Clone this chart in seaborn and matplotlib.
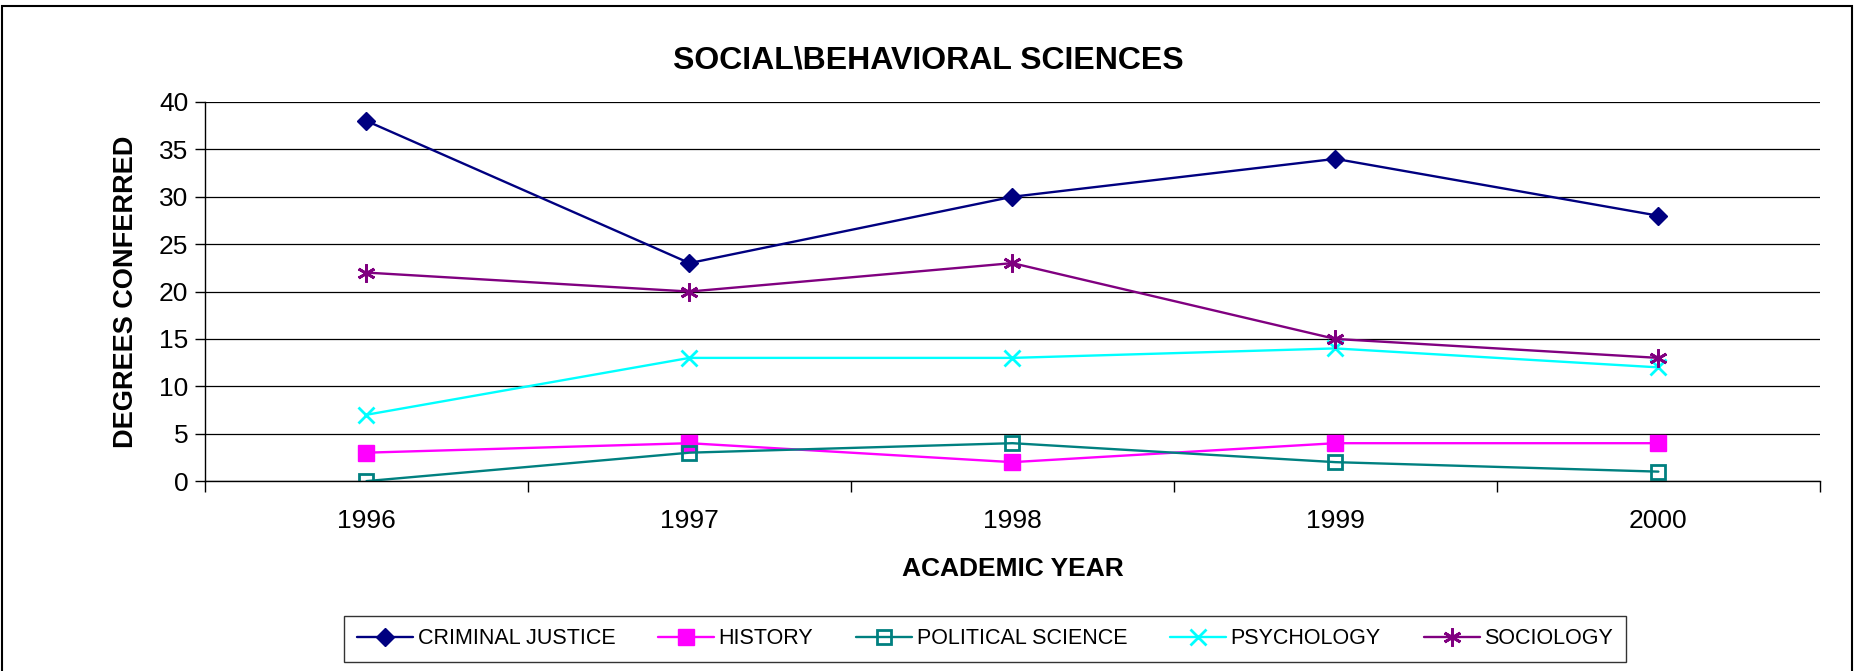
import matplotlib
matplotlib.use('Agg')
import matplotlib.pyplot as plt
from matplotlib.patches import Rectangle
from matplotlib.ticker import FixedLocator
import pandas as pd
import seaborn as sns

years = [1996, 1997, 1998, 1999, 2000]
criminal_justice = [38, 23, 30, 34, 28]
history = [3, 4, 2, 4, 4]
political_science = [0, 3, 4, 2, 1]
psychology = [7, 13, 13, 14, 12]
sociology = [22, 20, 23, 15, 13]

series_names = ['CRIMINAL JUSTICE', 'HISTORY', 'POLITICAL SCIENCE', 'PSYCHOLOGY', 'SOCIOLOGY']
series_values = [criminal_justice, history, political_science, psychology, sociology]

colors = ['#000080', '#FF00FF', '#008080', '#00FFFF', '#800080']
markers = ['D', 's', 's', 'x', (6, 2, 0)]
marker_sizes = [9, 11, 10, 12, 13]
fills = ['full', 'full', 'none', 'full', 'full']

df = pd.DataFrame(
    [(name, yr, v) for name, vals in zip(series_names, series_values) for yr, v in zip(years, vals)],
    columns=['program', 'year', 'degrees'],
)

sns.set_theme(style='white')
plt.rcParams['font.family'] = ['Liberation Sans', 'DejaVu Sans']
plt.rcParams['text.color'] = 'black'
plt.rcParams['axes.labelcolor'] = 'black'
plt.rcParams['xtick.color'] = 'black'
plt.rcParams['ytick.color'] = 'black'

fig = plt.figure(figsize=(18.57, 6.71), dpi=100)
ax = fig.add_axes([0.1104, 0.283, 0.8696, 0.565])

for name, color, mk, ms, fs in zip(series_names, colors, markers, marker_sizes, fills):
    sub = df[df['program'] == name]
    sns.lineplot(
        data=sub, x='year', y='degrees', ax=ax, color=color, linewidth=1.7,
        marker=mk, markersize=ms, fillstyle=fs, markeredgecolor=color,
        markeredgewidth=2 if fs == 'none' or mk == 'x' or isinstance(mk, tuple) else 1,
        label=name,
    )

ax.set_xlim(years[0] - 0.5, years[-1] + 0.5)
ax.set_ylim(0, 40)
ax.set_yticks(range(0, 41, 5))
ax.set_xticks(years)
ax.xaxis.set_minor_locator(FixedLocator([y - 0.5 for y in years] + [years[-1] + 0.5]))
ax.tick_params(axis='x', which='major', length=0, pad=20, labelsize=19)
ax.tick_params(axis='x', which='minor', length=8, width=1, direction='out', color='black', bottom=True)
ax.tick_params(axis='y', which='major', length=7, width=1, direction='out', color='black', left=True, pad=5, labelsize=19)

ax.grid(axis='y', color='black', linewidth=0.9)
ax.set_axisbelow(True)
for side in ['top', 'right']:
    ax.spines[side].set_visible(False)
for side in ['left', 'bottom']:
    ax.spines[side].set_color('black')
    ax.spines[side].set_linewidth(1)

ax.set_xlabel('ACADEMIC YEAR', fontsize=19, fontweight='bold')
ax.set_ylabel('DEGREES CONFERRED', fontsize=19.5, fontweight='bold')
ax.xaxis.set_label_coords(0.5, -0.2)
ax.yaxis.set_label_coords(-0.041, 0.5)

fig.text(0.5, 0.91, 'SOCIAL\\BEHAVIORAL SCIENCES', ha='center', va='center',
         fontsize=23, fontweight='bold')

leg = ax.legend(loc='center', bbox_to_anchor=(985 / 1857, 1 - 639 / 671), bbox_transform=fig.transFigure,
                ncol=5, fontsize=15.5, frameon=True, fancybox=False, edgecolor='black',
                handlelength=2.6, columnspacing=2.0, borderpad=0.6, handletextpad=0.2)
leg.get_frame().set_linewidth(1)

fig.patches.append(Rectangle((2 / 1857, -0.05), 1850 / 1857, 1 - 6 / 671 + 0.05, transform=fig.transFigure,
                             fill=False, edgecolor='black', linewidth=1.5))

fig.savefig('out.png', dpi=100)
